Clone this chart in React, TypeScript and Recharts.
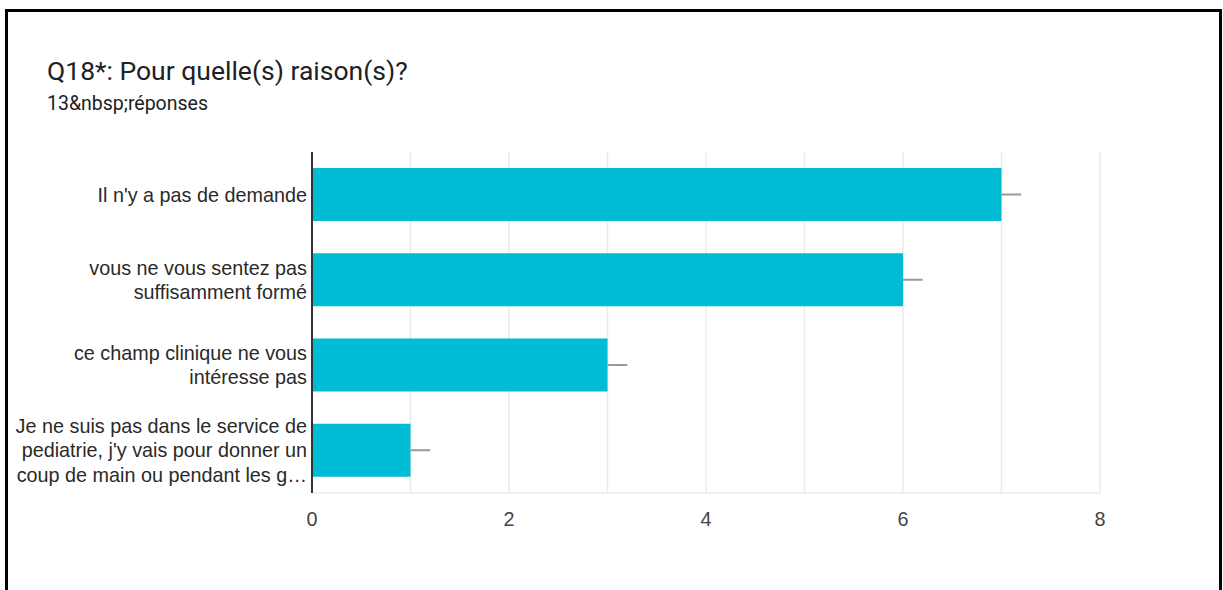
import { BarChart, Bar, XAxis, YAxis, CartesianGrid, ErrorBar } from "recharts";

const categories = [
  "Il n'y a pas de demande",
  "vous ne vous sentez pas\nsuffisamment formé",
  "ce champ clinique ne vous\nintéresse pas",
  "Je ne suis pas dans le service de\npediatrie, j'y vais pour donner un\ncoup de main ou pendant les g…",
];
const counts = [7, 6, 3, 1];
const whiskers = [0.2, 0.2, 0.2, 0.2];
const xTicks = [0, 1, 2, 3, 4, 5, 6, 7, 8];
const xLabels = [0, 2, 4, 6, 8];

const data = categories.map((name, i) => ({
  name,
  count: counts[i],
  err: [0, whiskers[i]],
}));

const LABEL_FONT = "'Liberation Sans', Arial, sans-serif";

function CategoryTick({ x, y, payload }: any) {
  const lines = String(payload.value).split("\n");
  const lh = 24.5;
  const start = -((lines.length - 1) * lh) / 2;
  return (
    <text
      x={x}
      y={y}
      textAnchor="end"
      fill="#2a2a2a"
      fontSize={19.8}
      fontFamily={LABEL_FONT}
    >
      {lines.map((line, i) => (
        <tspan key={i} x={x} dy={i === 0 ? start + 7 : lh}>
          {line}
        </tspan>
      ))}
    </text>
  );
}

function ValueTick({ x, y, payload }: any) {
  if (!xLabels.includes(payload.value)) return <g />;
  return (
    <text
      x={x}
      y={y + 33}
      textAnchor="middle"
      fill="#444"
      fontSize={19.8}
      fontFamily={LABEL_FONT}
    >
      {payload.value}
    </text>
  );
}

export default function App() {
  return (
    <div
      style={{
        position: "absolute",
        left: 0,
        top: 0,
        width: 1223,
        height: 590,
        overflow: "hidden",
        background: "#fff",
      }}
    >
      <div
        style={{
          position: "absolute",
          left: 5,
          top: 9,
          width: 1211,
          height: 700,
          border: "3px solid #000",
        }}
      />
      <div
        style={{
          position: "absolute",
          left: 47,
          top: 55,
          fontFamily: "Roboto, sans-serif",
          fontSize: 26.5,
          lineHeight: "31px",
          color: "#202124",
          whiteSpace: "nowrap",
        }}
      >
        Q18*: Pour quelle(s) raison(s)?
      </div>
      <div
        style={{
          position: "absolute",
          left: 47,
          top: 92,
          fontFamily: "Roboto, sans-serif",
          fontSize: 19.5,
          lineHeight: "23px",
          color: "#202124",
          whiteSpace: "nowrap",
        }}
      >
        13&amp;nbsp;réponses
      </div>
      <div style={{ position: "absolute", left: 0, top: 0 }}>
        <BarChart
          width={1223}
          height={590}
          data={data}
          layout="vertical"
          margin={{ top: 152, right: 123, bottom: 57, left: 0 }}
        >
          <CartesianGrid xAxisId="b" horizontal={false} stroke="#ebebeb" strokeWidth={1.5} />
          <XAxis
            xAxisId="t"
            orientation="top"
            type="number"
            domain={[0, 8]}
            height={0}
            tick={false}
            tickLine={false}
            axisLine={{ stroke: "#ebebeb", strokeWidth: 1.5 }}
          />
          <XAxis
            xAxisId="b"
            type="number"
            domain={[0, 8]}
            ticks={xTicks}
            interval={0}
            height={40}
            tickSize={0}
            tickMargin={0}
            tickLine={false}
            axisLine={{ stroke: "#ebebeb", strokeWidth: 1.5 }}
            tick={<ValueTick />}
          />
          <YAxis
            type="category"
            dataKey="name"
            width={312}
            tickSize={0}
            tickMargin={5}
            tickLine={false}
            axisLine={{ stroke: "#333", strokeWidth: 2 }}
            tick={<CategoryTick />}
          />
          <Bar
            xAxisId="b"
            dataKey="count"
            fill="#00bcd4"
            barSize={53}
            isAnimationActive={false}
          >
            <ErrorBar dataKey="err" direction="x" width={0} stroke="#999" strokeWidth={2} />
          </Bar>
        </BarChart>
      </div>
    </div>
  );
}
